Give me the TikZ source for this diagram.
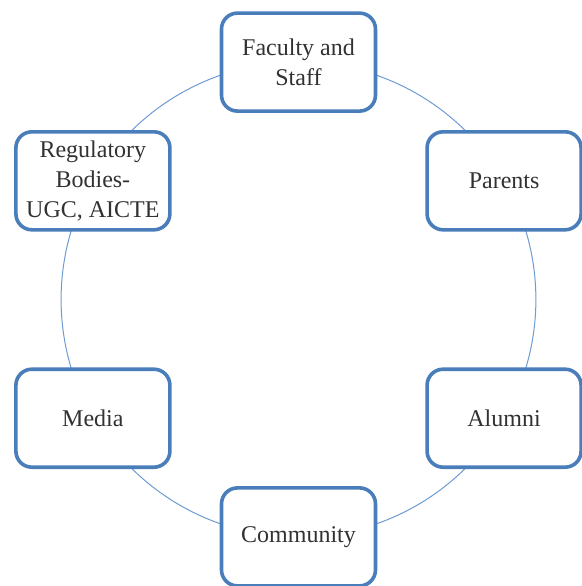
\documentclass[tikz,border=0pt]{standalone}
\usepackage{fontspec}
\setmainfont{LiberationSerif}[Extension=.ttf, UprightFont=*-Regular, BoldFont=*-Bold]
\usetikzlibrary{positioning}
\definecolor{boxblue}{RGB}{74, 126, 187}
\definecolor{ringblue}{RGB}{110, 155, 210}
\definecolor{txtgray}{RGB}{50, 50, 50}

\begin{document}
\begin{tikzpicture}[
  font=\fontsize{12}{15}\selectfont,
  stake/.style={draw=boxblue, fill=white, line width=1.8pt, rounded corners=8pt, minimum width=77pt, minimum height=49pt, align=center, inner sep=2pt, text=txtgray},
]
\useasboundingbox (-149.25pt,-143.25pt) rectangle (141.75pt,149.75pt);

% ring behind the boxes
\draw[ringblue, line width=0.5pt] (0,0) circle (118.7pt);

\node[stake] (fac) at (90:118.7pt) {Faculty and\\Staff};
\node[stake] (par) at (30:118.7pt) {Parents};
\node[stake] (alu) at (-30:118.7pt) {Alumni};
\node[stake] (com) at (-90:118.7pt) {Community};
\node[stake] (med) at (210:118.7pt) {Media};
\node[stake] (reg) at (150:118.7pt) {Regulatory\\Bodies-\\UGC, AICTE};
\end{tikzpicture}
\end{document}
